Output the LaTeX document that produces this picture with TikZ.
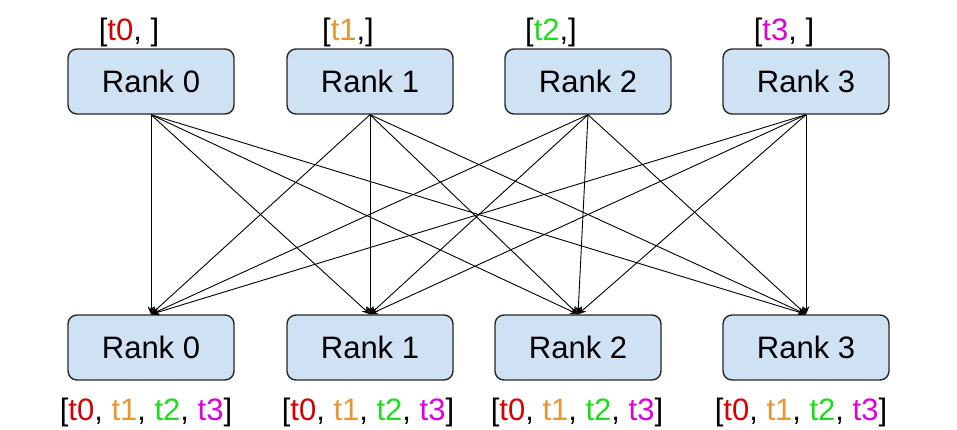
\documentclass[tikz,border=0pt]{standalone}
\usepackage{fontspec}
\setmainfont{Liberation Sans}
\usepackage{tikz}
\usetikzlibrary{arrows.meta}
\usepackage{xcolor}
\definecolor{rankfill}{RGB}{207,226,243}
\definecolor{tzero}{RGB}{214,0,0}
\definecolor{tone}{RGB}{232,150,50}
\definecolor{ttwo}{RGB}{30,220,30}
\definecolor{tthree}{RGB}{222,0,222}
\tikzset{
  rank/.style={rectangle,rounded corners=4.5pt,draw=black!85,line width=0.7pt,fill=rankfill,
    minimum width=83pt,minimum height=32.5pt,inner sep=0pt,font=\fontsize{15.5}{18}\selectfont},
  buf/.style={anchor=base,inner sep=0pt,font=\fontsize{15.5}{18}\selectfont},
  % all-gather edges, every rank sends to every rank
  send/.style={-{Stealth[length=4pt,width=3.4pt]},line width=0.45pt,black},
}
\newcommand{\Gathered}{[\textcolor{tzero}{t0}, \textcolor{tone}{t1}, \textcolor{ttwo}{t2}, \textcolor{tthree}{t3}]}
\begin{document}
\begin{tikzpicture}[x=0.5pt,y=-0.5pt]
  \useasboundingbox (0,0) rectangle (957,429);
  \node[rank] (top0) at (151,81.5){Rank 0};
  \node[rank] (top1) at (370,81.5){Rank 1};
  \node[rank] (top2) at (588,81.5){Rank 2};
  \node[rank] (top3) at (806,81.5){Rank 3};
  \node[rank] (bot0) at (151,347.5){Rank 0};
  \node[rank] (bot1) at (370,347.5){Rank 1};
  \node[rank] (bot2) at (578,347.5){Rank 2};
  \node[rank] (bot3) at (806,347.5){Rank 3};
  \node[buf] (in0) at (129,40){[\textcolor{tzero}{t0}, ]};
  \node[buf] (in1) at (348,40){[\textcolor{tone}{t1},]};
  \node[buf] (in2) at (551,40){[\textcolor{ttwo}{t2},]};
  \node[buf] (in3) at (784,40){[\textcolor{tthree}{t3}, ]};
  \node[buf] (out0) at (146,420){\Gathered};
  \node[buf] (out1) at (368,420){\Gathered};
  \node[buf] (out2) at (577,420){\Gathered};
  \node[buf] (out3) at (801,420){\Gathered};
  \draw[send] (top0.south)--(bot0.north); \draw[send] (top0.south)--(bot1.north);
  \draw[send] (top0.south)--(bot2.north); \draw[send] (top0.south)--(bot3.north);
  \draw[send] (top1.south)--(bot0.north); \draw[send] (top1.south)--(bot1.north);
  \draw[send] (top1.south)--(bot2.north); \draw[send] (top1.south)--(bot3.north);
  \draw[send] (top2.south)--(bot0.north); \draw[send] (top2.south)--(bot1.north);
  \draw[send] (top2.south)--(bot2.north); \draw[send] (top2.south)--(bot3.north);
  \draw[send] (top3.south)--(bot0.north); \draw[send] (top3.south)--(bot1.north);
  \draw[send] (top3.south)--(bot2.north); \draw[send] (top3.south)--(bot3.north);
\end{tikzpicture}
\end{document}
